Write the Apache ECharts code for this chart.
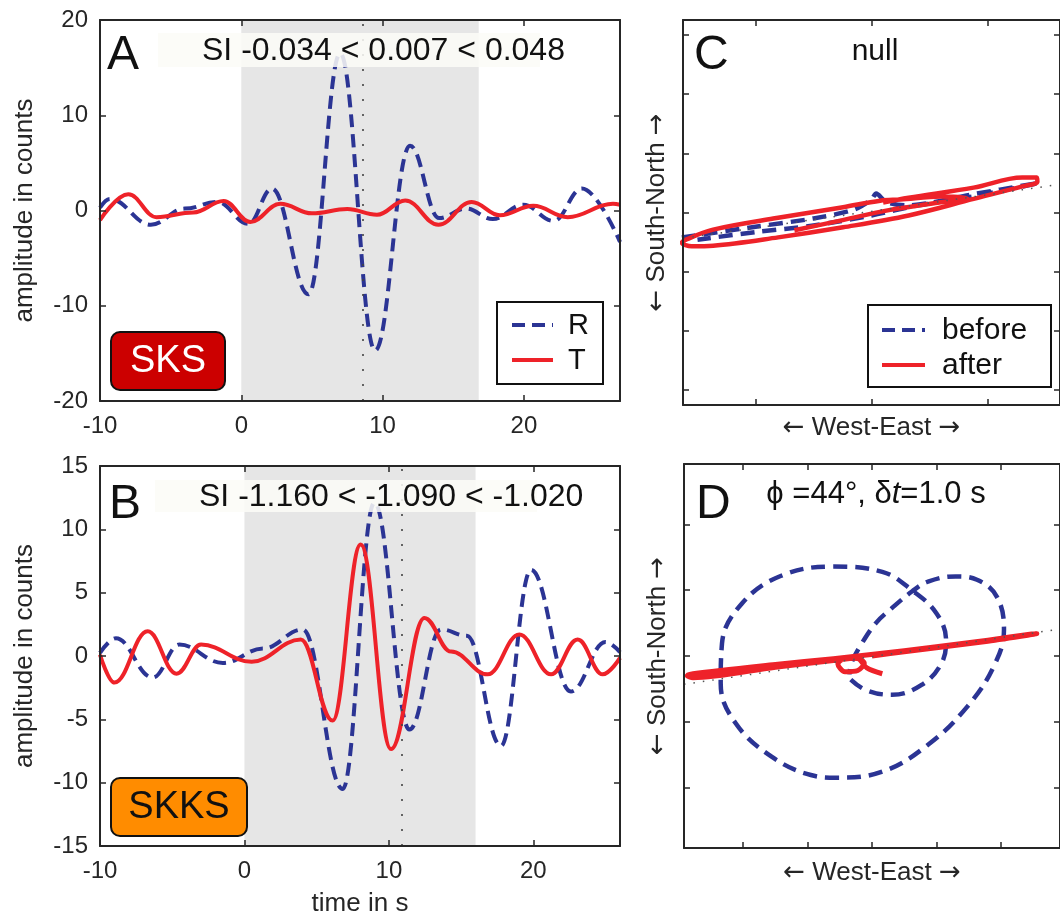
<!DOCTYPE html>
<html><head><meta charset="utf-8">
<script src="https://cdn.jsdelivr.net/npm/echarts@6/dist/echarts.min.js"></script>
<style>html,body{margin:0;padding:0;background:#fff}#c{width:1060px;height:918px}</style>
</head><body><div id="c"></div>
<script>
// ---------------- data ----------------
const timeTicks = [-10, 0, 10, 20];
const ampTicksA = [-20, -10, 0, 10, 20];
const ampTicksB = [-15, -10, -5, 0, 5, 10, 15];
const pmTicksCx = [-2, 0, 2];
const pmTicksCy = [-3, -2, -1, 0, 1, 2, 3];
const pmTicksD = [-2, -1, 0, 1, 2];

const timeRangeA = [-10, 26.8];
const timeRangeB = [-10, 26];
const ampRangeA = [-20, 20];
const ampRangeB = [-15, 15];
const pmRangeC = [-3.25, 3.25];
const pmRangeD = [-2.92, 2.92];

// SKS (panel A): radial R and transverse T, [time s, amplitude counts]
const sksR = [[-10,0.3],[-9.3,1.2],[-6.4,-1.5],[-4.0,0.2],[-1.7,0.9],[0.5,-1.4],[2.17,2.3],[4.76,-8.8],[7.0,16.5],[9.47,-14.7],[11.94,6.8],[14.0,-0.8],[15.9,0.2],[17.8,-0.9],[19.95,0.6],[22.1,-1.1],[24.1,2.3],[26.8,-3.3]];
const sksT = [[-10,-1.0],[-8.0,1.7],[-6.0,-0.7],[-3.4,-0.2],[-1.25,1.0],[0.64,-1.2],[2.76,0.7],[5.0,-0.3],[7.5,0.15],[9.6,-0.45],[11.6,1.05],[13.95,-1.5],[16.3,0.9],[18.3,-0.5],[20.66,0.5],[23.1,-0.7],[26.3,0.7],[26.8,0.6]];
// SKKS (panel B)
const skksR = [[-10,0.25],[-8.9,1.4],[-6.35,-1.7],[-4.5,0.9],[-1.5,-0.55],[1.3,0.6],[4.04,2.1],[6.8,-10.5],[9.0,12.1],[11.42,-5.8],[13.6,2.1],[15.4,1.6],[17.76,-7.1],[19.84,6.8],[22.6,-2.8],[25.0,1.1],[26,0.3]];
const skksT = [[-10,0.1],[-9.0,-2.1],[-6.7,1.95],[-4.7,-1.4],[-3.0,0.9],[0.5,-0.45],[3.9,1.3],[6.1,-5.1],[8.05,8.8],[10.15,-7.35],[12.46,3.0],[14.3,0.35],[16.84,-1.45],[19.03,1.7],[21.23,-1.45],[23.07,1.3],[24.8,-1.45],[26,-0.15]];

const sksWindow = [0, 16.8];
const skksWindow = [0, 16.0];
const sksPick = 8.6;
const skksPick = 10.9;
const sksSI = ['-0.034', '0.007', '0.048'];
const skksSI = ['-1.160', '-1.090', '-1.020'];

// particle motion (panel C: null), [West-East, South-North]
const nullBefore = [[-3.27,-0.42],[-2.0,-0.24],[-1.0,-0.10],[-0.3,0.05],[0.0,0.22],[0.08,0.32],[0.25,0.18],[0.6,0.12],[1.7,0.30],[2.89,0.50],[1.8,0.28],[0.8,0.12],[0.0,-0.05],[-1.0,-0.22],[-2.0,-0.33],[-3.0,-0.46]];
const nullAfter = [[-1.33,-0.30],[-0.6,-0.15],[0.3,0.04],[1.1,0.16],[1.65,0.24],[1.2,0.27],[0.5,0.22],[0.15,0.20],[-0.49,0.09],[-1.61,-0.09],[-2.73,-0.29],[-3.18,-0.45],[-3.27,-0.51],[-3.10,-0.57],[-2.73,-0.56],[-1.61,-0.42],[-0.49,-0.25],[0.64,-0.05],[1.76,0.23],[2.60,0.44],[2.86,0.52],[2.85,0.59],[2.60,0.59],[1.76,0.42],[0.64,0.25],[0.2,0.17]];
const nullFast = [[-3.25,-0.435],[3.25,0.475]];

// particle motion (panel D: split)
const splitBefore = [[-0.33,-0.36],[-0.09,-0.52],[0.31,-0.59],[0.77,-0.44],[1.08,-0.11],[1.15,0.24],[1.00,0.65],[0.62,1.00],[0.16,1.28],[-0.60,1.36],[-1.41,1.22],[-2.02,0.80],[-2.33,0.19],[-2.35,-0.42],[-2.12,-1.02],[-1.56,-1.53],[-0.95,-1.81],[-0.55,-1.85],[0.16,-1.76],[0.87,-1.35],[1.48,-0.77],[1.89,-0.16],[2.05,0.40],[1.94,0.90],[1.63,1.16],[1.30,1.21],[0.87,1.13],[0.62,0.98],[0.3,0.72],[0.06,0.50],[-0.19,0.14],[-0.32,-0.11],[-0.35,-0.28]];
const splitAfter = [[0.16,-0.27],[-0.08,-0.18],[-0.22,-0.04],[-0.40,-0.03],[-0.53,-0.12],[-0.42,-0.24],[-0.22,-0.22],[-0.12,-0.11],[-0.25,-0.03],[-0.6,-0.07],[-1.5,-0.17],[-2.78,-0.33],[-2.87,-0.30],[-2.78,-0.27],[-1.5,-0.13],[-0.6,-0.04],[0.5,0.08],[1.0,0.14],[1.8,0.24],[2.48,0.335],[2.56,0.34],[2.48,0.325],[1.8,0.225],[1.0,0.125],[0.5,0.065],[0,0.0]];
const splitFast = [[-2.92,-0.43],[2.92,0.41]];
const splitPhi = '44';
const splitDt = '1.0';

// ---------------- styling ----------------
const FONT = 'Liberation Sans, Arial, Helvetica, sans-serif';
const INK = '#262626';
const BLUE = '#2b3494';
const RED = '#ee2229';
const DASH = [13, 7];
const arrowRich = { a: { fontFamily: 'DejaVu Sans', fontSize: 26, color: INK } };

function xAxes(g, range, ticks, showLabel, name, nameGap) {
  const base = {
    type: 'value', gridIndex: g, min: range[0], max: range[1], z: 10,
    splitLine: { show: false },
    axisLine: { show: true, onZero: false, lineStyle: { color: INK, width: 2 } },
    axisTick: { show: true, inside: true, length: 6, lineStyle: { color: INK, width: 1.5 }, customValues: ticks }
  };
  return [
    Object.assign({}, base, {
      position: 'bottom',
      axisLabel: { show: showLabel, customValues: ticks, margin: 13, fontSize: 24, color: INK, fontFamily: FONT },
      name: name, nameLocation: 'middle', nameGap: nameGap,
      nameTextStyle: { fontSize: 26, color: INK, fontFamily: FONT, rich: arrowRich }
    }),
    Object.assign({}, base, { position: 'top', axisLabel: { show: false } })
  ];
}
function yAxes(g, range, ticks, showLabel, name, nameGap) {
  const base = {
    type: 'value', gridIndex: g, min: range[0], max: range[1], z: 10,
    splitLine: { show: false },
    axisLine: { show: true, onZero: false, lineStyle: { color: INK, width: 2 } },
    axisTick: { show: true, inside: true, length: 6, lineStyle: { color: INK, width: 1.5 }, customValues: ticks }
  };
  return [
    Object.assign({}, base, {
      position: 'left',
      axisLabel: { show: showLabel, customValues: ticks, margin: 12, fontSize: 24, color: INK, fontFamily: FONT },
      name: name, nameLocation: 'middle', nameGap: nameGap,
      nameTextStyle: { fontSize: 26, color: INK, fontFamily: FONT, rich: arrowRich }
    }),
    Object.assign({}, base, { position: 'right', axisLabel: { show: false } })
  ];
}

function shadeSeries(axisIdx, win, pick) {
  return {
    type: 'line', xAxisIndex: axisIdx, yAxisIndex: axisIdx, z: 1, silent: true,
    data: [[win[0], 0], [win[1], 0]], symbol: 'none', lineStyle: { opacity: 0 },
    markArea: { silent: true, itemStyle: { color: '#e6e6e6' }, data: [[{ xAxis: win[0] }, { xAxis: win[1] }]] },
    markLine: { silent: true, symbol: 'none', label: { show: false },
      lineStyle: { type: [2, 13], color: '#444', width: 1.6 }, data: [{ xAxis: pick }] }
  };
}
function wave(axisIdx, name, data, color, dashed) {
  return {
    type: 'line', name: name, xAxisIndex: axisIdx, yAxisIndex: axisIdx, z: 3,
    data: data, showSymbol: false, symbol: 'none', smooth: 0.4, smoothMonotone: 'x',
    lineStyle: { color: color, width: 4, type: dashed ? DASH : 'solid', cap: 'butt' }
  };
}
function motion(axisIdx, name, data, color, dashed, width, smooth) {
  return {
    type: 'line', name: name, xAxisIndex: axisIdx, yAxisIndex: axisIdx, z: dashed ? 3 : 4,
    data: data, showSymbol: false, symbol: 'none', smooth: smooth,
    lineStyle: { color: color, width: width, type: dashed ? [14, 8] : 'solid', cap: 'butt', join: 'round' }
  };
}
function fastLine(axisIdx, data) {
  return {
    type: 'line', xAxisIndex: axisIdx, yAxisIndex: axisIdx, z: 5, silent: true,
    data: data, showSymbol: false, symbol: 'none',
    lineStyle: { color: '#555', width: 1.5, type: [1.5, 8] }
  };
}

function txt(x, y, text, size) {
  return {
    type: 'text', x: x, y: y, z: 100, silent: true,
    style: { text: text, fontSize: size, fontFamily: FONT, fill: '#111',
      align: 'left', textAlign: 'left', verticalAlign: 'middle', textVerticalAlign: 'middle' }
  };
}
function centered(x, y, text, size, fill, extra) {
  return { type: 'text', x: x, y: y, z: 102, silent: true,
    style: Object.assign({ text: text, fontSize: size, fontFamily: FONT, fill: fill || '#111',
      align: 'center', textAlign: 'center', verticalAlign: 'middle', textVerticalAlign: 'middle' }, extra || {}) };
}
function rect(x, y, w, h, style, r) {
  return { type: 'rect', z: 99, silent: true, shape: { x: x, y: y, width: w, height: h, r: r || 0 }, style: style };
}
function seg(x1, y1, x2, y2, color, dashed) {
  return { type: 'line', z: 101, silent: true, shape: { x1: x1, y1: y1, x2: x2, y2: y2 },
    style: { stroke: color, lineWidth: 4, lineDash: dashed ? [13, 7] : null } };
}

const weName = '{a|\u2190} West-East {a|\u2192}';
const snName = '{a|\u2190} South-North {a|\u2192}';

const option = {
  animation: false,
  backgroundColor: '#ffffff',
  grid: [
    { left: 100, top: 20, width: 520, height: 381 },
    { left: 100, top: 466, width: 520, height: 381 },
    { left: 683, top: 20, width: 385, height: 385 },
    { left: 684, top: 464, width: 384, height: 384 }
  ],
  xAxis: [].concat(
    xAxes(0, timeRangeA, timeTicks, true, '', 0),
    xAxes(1, timeRangeB, timeTicks, true, 'time in s', 45),
    xAxes(2, pmRangeC, pmTicksCx, false, weName, 10),
    xAxes(3, pmRangeD, pmTicksD, false, weName, 12)
  ),
  yAxis: [].concat(
    yAxes(0, ampRangeA, ampTicksA, true, 'amplitude in counts', 62),
    yAxes(1, ampRangeB, ampTicksB, true, 'amplitude in counts', 62),
    yAxes(2, pmRangeC, pmTicksCy, false, snName, 13),
    yAxes(3, pmRangeD, pmTicksD, false, snName, 13)
  ),
  series: [
    shadeSeries(0, sksWindow, sksPick),
    wave(0, 'R', sksR, BLUE, true),
    wave(0, 'T', sksT, RED, false),
    shadeSeries(2, skksWindow, skksPick),
    wave(2, 'R', skksR, BLUE, true),
    wave(2, 'T', skksT, RED, false),
    motion(4, 'before', nullBefore, BLUE, true, 4.5, 0.3),
    motion(4, 'after', nullAfter, RED, false, 4.5, 0.35),
    fastLine(4, nullFast),
    motion(6, 'before', splitBefore, BLUE, true, 4.5, 0.4),
    motion(6, 'after', splitAfter, RED, false, 5, 0.3),
    fastLine(6, splitFast)
  ],
  graphic: [
    // panel A annotations
    rect(158, 33, 382, 34, { fill: 'rgba(251,251,247,0.86)' }),
    txt(202, 51, 'SI ' + sksSI[0] + ' < ' + sksSI[1] + ' < ' + sksSI[2], 32),
    txt(107, 56, 'A', 48),
    rect(111, 332, 114, 58, { fill: '#cc0000', stroke: '#111', lineWidth: 2 }, 9),
    centered(168, 362, 'SKS', 38, '#ffffff'),
    rect(497, 302, 106, 82, { fill: '#ffffff', stroke: '#111', lineWidth: 2 }),
    seg(512, 325, 553, 325, BLUE, true),
    seg(512, 360, 553, 360, RED, false),
    txt(568, 326, 'R', 29),
    txt(568, 361, 'T', 29),
    // panel B annotations
    rect(155, 480, 382, 32, { fill: 'rgba(251,251,247,0.86)' }),
    txt(199, 497, 'SI ' + skksSI[0] + ' < ' + skksSI[1] + ' < ' + skksSI[2], 32),
    txt(109, 505, 'B', 48),
    rect(111, 778, 136, 58, { fill: '#ff8c00', stroke: '#111', lineWidth: 2 }, 9),
    centered(179, 808, 'SKKS', 38, '#111111'),
    // panel C annotations
    txt(694, 56, 'C', 48),
    centered(875, 52, 'null', 30),
    rect(868, 305, 183, 82, { fill: '#ffffff', stroke: '#111', lineWidth: 2 }),
    seg(882, 330, 925, 330, BLUE, true),
    seg(882, 365, 925, 365, RED, false),
    txt(942, 331, 'before', 30),
    txt(942, 366, 'after', 30),
    // panel D annotations
    txt(696, 505, 'D', 48),
    centered(876, 494, '\u03D5 =' + splitPhi + '\u00B0, \u03B4{i|t}=' + splitDt + ' s', 31, '#111',
      { rich: { i: { fontSize: 31, fontFamily: FONT, fontStyle: 'italic', fill: '#111' } } })
  ]
};

const chart = echarts.init(document.getElementById('c'), null, { renderer: 'canvas' });
chart.setOption(option);
</script>
</body></html>
